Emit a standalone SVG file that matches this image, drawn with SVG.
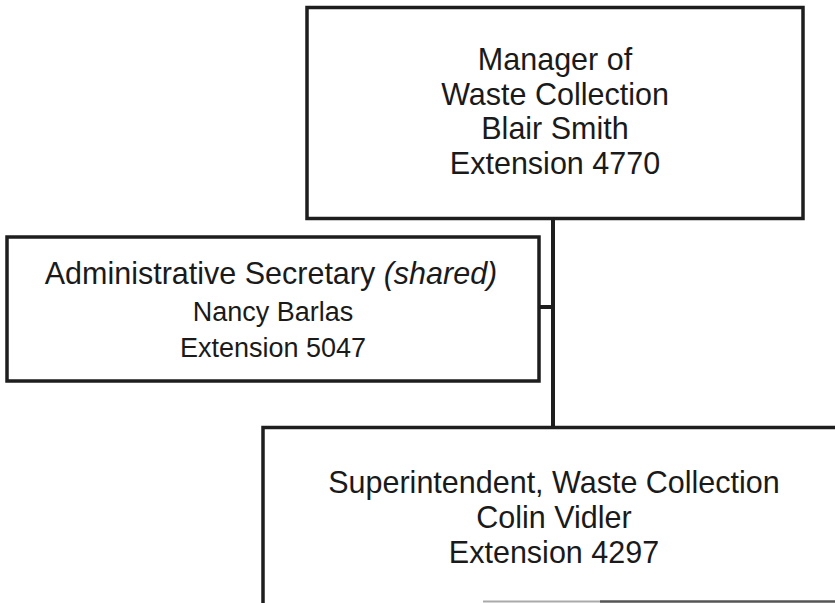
<svg xmlns="http://www.w3.org/2000/svg" width="835" height="603" viewBox="0 0 835 603">
<style>
.box{fill:#fff;stroke:#1e1e1e;stroke-width:3.5}
.t{font-family:"Liberation Sans",Arial,sans-serif;font-size:30.5px;fill:#1a1a1a;text-anchor:middle}
.s{font-size:27px}
.conn{stroke:#1e1e1e;stroke-width:4;fill:none}
</style>
<rect width="835" height="603" fill="#fff"/>
<g id="connectors">
<line class="conn" x1="553" y1="218" x2="553" y2="428"/>
<line class="conn" x1="539" y1="307" x2="553" y2="307" stroke-width="3"/>
</g>
<g id="manager">
<rect class="box" x="307" y="7.5" width="496" height="211"/>
<text class="t" x="555" y="70">Manager of</text>
<text class="t" x="555" y="104.5">Waste Collection</text>
<text class="t" x="555" y="139">Blair Smith</text>
<text class="t" x="555" y="173.5">Extension 4770</text>
</g>
<g id="secretary">
<rect class="box" x="7" y="237" width="532" height="144"/>
<text class="t" x="271" y="284">Administrative Secretary <tspan font-style="italic">(shared)</tspan></text>
<text class="t s" x="273" y="321">Nancy Barlas</text>
<text class="t s" x="273" y="357">Extension 5047</text>
</g>
<g id="superintendent">
<path class="box" d="M263 603 V427.5 H835" fill="none"/>
<line x1="483" y1="601.5" x2="600" y2="601.5" stroke="#aaa" stroke-width="2"/>
<line x1="600" y1="601.5" x2="835" y2="601.5" stroke="#555" stroke-width="2.5"/>
<text class="t" x="554" y="493">Superintendent, Waste Collection</text>
<text class="t" x="554" y="528">Colin Vidler</text>
<text class="t" x="554" y="563">Extension 4297</text>
</g>
</svg>
